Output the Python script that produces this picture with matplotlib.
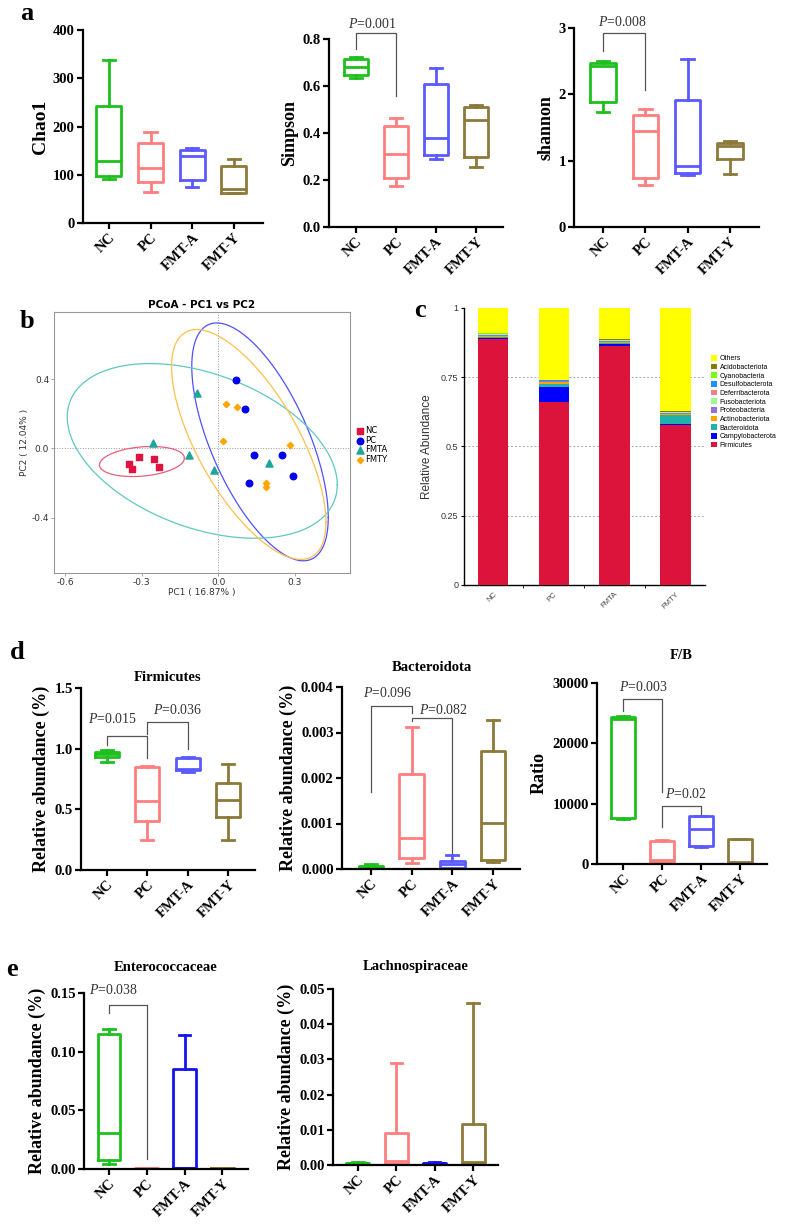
import numpy as np
import matplotlib
matplotlib.use('Agg')
import matplotlib.pyplot as plt
from matplotlib.patches import Patch

plt.rcParams['font.family'] = ['Liberation Serif', 'DejaVu Serif']
plt.rcParams['mathtext.fontset'] = 'custom'
plt.rcParams['mathtext.it'] = 'Liberation Serif:italic'
plt.rcParams['mathtext.rm'] = 'Liberation Serif'
plt.rcParams['axes.unicode_minus'] = False

W, H = 800, 1225
fig = plt.figure(figsize=(8, 12.25), dpi=100)

# ---------------- data ----------------
groups = ['NC', 'PC', 'FMT-A', 'FMT-Y']
col_a = ['#1EC01E', '#FF7F7F', '#5A5AFF', '#8C7A3A']
col_e = ['#1EC01E', '#FF7F7F', '#1414F0', '#8C7A3A']

# box stats: [min, q1, median, q3, max]
chao1 = [[92, 97, 128, 242, 337], [65, 85, 113, 165, 188],
         [75, 90, 138, 152, 155], [62, 63, 70, 118, 133]]
simpson = [[0.635, 0.645, 0.68, 0.715, 0.725], [0.175, 0.21, 0.31, 0.43, 0.465],
           [0.29, 0.305, 0.38, 0.61, 0.675], [0.255, 0.30, 0.455, 0.51, 0.52]]
shannon = [[1.74, 1.89, 2.42, 2.47, 2.50], [0.63, 0.74, 1.44, 1.69, 1.78],
           [0.79, 0.81, 0.92, 1.92, 2.53], [0.80, 1.02, 1.22, 1.27, 1.30]]
firmicutes_box = [[0.89, 0.935, 0.955, 0.975, 0.99], [0.25, 0.40, 0.57, 0.845, 0.86],
                  [0.81, 0.825, 0.83, 0.92, 0.93], [0.25, 0.44, 0.58, 0.72, 0.87]]
bacteroidota_box = [[0.00001, 0.00002, 0.00004, 0.00006, 0.00012],
                    [0.00013, 0.00024, 0.00069, 0.00208, 0.00313],
                    [0.00001, 0.00003, 0.00010, 0.00018, 0.00031],
                    [0.00015, 0.00020, 0.00102, 0.00259, 0.00327]]
fb_box = [[7500, 7600, 24100, 24300, 24600], [200, 300, 600, 3800, 3900],
          [2900, 3000, 5800, 7900, 8000], [100, 200, 300, 4100, 4200]]
entero_box = [[0.004, 0.008, 0.031, 0.115, 0.119], [0.0, 0.0, 0.0005, 0.001, 0.001],
              [0.0, 0.0005, 0.001, 0.085, 0.114], [0.0, 0.0005, 0.001, 0.001, 0.001]]
lachno_box = [[0.0002, 0.0003, 0.0005, 0.0007, 0.0008], [0.0002, 0.0003, 0.001, 0.0091, 0.0291],
              [0.0002, 0.0003, 0.0005, 0.0007, 0.0008], [0.0003, 0.0005, 0.0008, 0.0117, 0.0459]]

# PCoA scores
nc_pc1 = [-0.348, -0.337, -0.310, -0.252, -0.233]
nc_pc2 = [-0.088, -0.117, -0.050, -0.060, -0.104]
pc_pc1 = [0.070, 0.103, 0.141, 0.121, 0.249, 0.292]
pc_pc2 = [0.392, 0.229, -0.038, -0.196, -0.038, -0.158]
fmta_pc1 = [-0.254, -0.083, -0.113, -0.016, 0.198]
fmta_pc2 = [0.031, 0.319, -0.038, -0.123, -0.081]
fmty_pc1 = [0.031, 0.073, 0.017, 0.279, 0.185, 0.187]
fmty_pc2 = [0.256, 0.240, 0.042, 0.021, -0.196, -0.219]
# confidence ellipses (centre and shape matrix) NC, PC, FMTA, FMTY
ell_cx = [-0.299, 0.163, -0.063, 0.119]
ell_cy = [-0.075, 0.038, -0.014, 0.023]
ell_sxx = [0.0276, 0.0713, 0.279, 0.0912]
ell_syy = [0.0075, 0.469, 0.253, 0.438]
ell_sxy = [0.0032, -0.116, -0.103, -0.135]

# stacked phylum composition
bar_groups = ['NC', 'PC', 'FMTA', 'FMTY']
phyla = ['Firmicutes', 'Campylobacterota', 'Bacteroidota', 'Actinobacteriota',
         'Proteobacteria', 'Fusobacteriota', 'Deferribacterota', 'Desulfobacterota',
         'Cyanobacteria', 'Acidobacteriota', 'Others']
phylum_vals = [
    [0.888, 0.662, 0.862, 0.578],
    [0.005, 0.052, 0.009, 0.002],
    [0.001, 0.010, 0.002, 0.032],
    [0.006, 0.009, 0.006, 0.004],
    [0.004, 0.003, 0.003, 0.006],
    [0.001, 0.001, 0.001, 0.001],
    [0.001, 0.001, 0.001, 0.001],
    [0.001, 0.001, 0.001, 0.001],
    [0.001, 0.001, 0.001, 0.001],
    [0.001, 0.001, 0.001, 0.001],
    [0.091, 0.259, 0.113, 0.373],
]
phylum_cols = ['#DC143C', '#0000FF', '#20B2AA', '#FFA500', '#9370DB', '#98FB98',
               '#F08080', '#1E90FF', '#7CFC00', '#808000', '#FFFF00']


def rect(x0, y0, x1, y1):
    return [x0 / W, 1 - y1 / H, (x1 - x0) / W, (y1 - y0) / H]


def box_panel(r, stats, colors, xlim, ylim, yticks, yfmt, ylabel, title=None,
              brackets=(), title_y=None, ylabel_size=13):
    ax = fig.add_axes(r)
    bst = [dict(whislo=s[0], q1=s[1], med=s[2], q3=s[3], whishi=s[4], fliers=[])
           for s in stats]
    pos = np.arange(len(stats))
    res = ax.bxp(bst, positions=pos, widths=0.6, capwidths=0.3, showfliers=False,
                 patch_artist=False)
    for i, c in enumerate(colors):
        for key in ('boxes', 'medians'):
            res[key][i].set(color=c, linewidth=2.0)
        for key in ('whiskers', 'caps'):
            res[key][2 * i].set(color=c, linewidth=2.0)
            res[key][2 * i + 1].set(color=c, linewidth=2.0)
    ax.set_xlim(*xlim)
    ax.set_ylim(*ylim)
    ax.set_yticks(yticks)
    ax.set_yticklabels([yfmt.format(v) for v in yticks], fontweight='bold', fontsize=10.5)
    ax.set_xticks(pos)
    ax.set_xticklabels(groups, rotation=45, ha='right', va='top', rotation_mode='anchor',
                       fontweight='bold', fontsize=10.5)
    for s in ('top', 'right'):
        ax.spines[s].set_visible(False)
    for s in ('left', 'bottom'):
        ax.spines[s].set_linewidth(1.6)
    ax.tick_params(width=1.6, length=4, direction='out', pad=2)
    ax.set_ylabel(ylabel, fontweight='bold', fontsize=ylabel_size, labelpad=3)
    if title:
        ax.text(1.5, title_y, title, ha='center', va='center', fontweight='bold',
                fontsize=10.5, transform=ax.transData, clip_on=False)
    for (x1, x2, yt, y1b, y2b, txt, tx, ty) in brackets:
        ax.plot([x1, x1, x2, x2], [y1b, yt, yt, y2b], color='#555555', lw=0.9,
                clip_on=False, zorder=5)
        ax.text(tx, ty, r'$\mathit{P}$=' + txt, ha='center', va='center', fontsize=10,
                color='#333333', clip_on=False)
    return ax


# ---------------- panel a ----------------
box_panel(rect(83, 30, 263, 223), chao1, col_a, (-0.62, 3.7), (0, 400),
          [0, 100, 200, 300, 400], '{:.0f}', 'Chao1', ylabel_size=14)
box_panel(rect(329, 39, 503, 227), simpson, col_a, (-0.675, 3.675), (0, 0.8),
          [0, 0.2, 0.4, 0.6, 0.8], '{:.1f}', 'Simpson',
          brackets=[(0, 1, 0.827, 0.759, 0.556, '0.001', 0.41, 0.865)])
box_panel(rect(574, 28, 759, 227), shannon, col_a, (-0.69, 3.69), (0, 3),
          [0, 1, 2, 3], '{:.0f}', 'shannon',
          brackets=[(0, 1, 2.93, 2.65, 2.06, '0.008', 0.47, 3.09)])

# ---------------- panel b ----------------
axb = fig.add_axes(rect(54, 312, 350, 573))
axb.set_xlim(-0.643, 0.515)
axb.set_ylim(-0.717, 0.786)
axb.axvline(0, color='#999999', lw=0.7, ls=':', zorder=0)
axb.axhline(0, color='#999999', lw=0.7, ls=':', zorder=0)
ell_cols = ['#E8607A', '#5050FF', '#60C8C0', '#FFC04A']
t = np.linspace(0, 2 * np.pi, 300)
for cx, cy, sxx, syy, sxy, c in zip(ell_cx, ell_cy, ell_sxx, ell_syy, ell_sxy, ell_cols):
    L = np.linalg.cholesky(np.array([[sxx, sxy], [sxy, syy]]))
    pts = L @ np.vstack([np.cos(t), np.sin(t)])
    axb.plot(cx + pts[0], cy + pts[1], color=c, lw=0.9)
axb.scatter(nc_pc1, nc_pc2, marker='s', s=20, color='#E0123F', zorder=4, label='NC')
axb.scatter(pc_pc1, pc_pc2, marker='o', s=22, color='#0000EE', zorder=4, label='PC')
axb.scatter(fmta_pc1, fmta_pc2, marker='^', s=26, color='#1FA59A', zorder=4, label='FMTA')
axb.scatter(fmty_pc1, fmty_pc2, marker='D', s=10, color='#FFA500', zorder=4, label='FMTY')
axb.set_xticks([-0.6, -0.3, 0.0, 0.3])
axb.set_yticks([-0.4, 0.0, 0.4])
sans = ['DejaVu Sans']
for lab in axb.get_xticklabels() + axb.get_yticklabels():
    lab.set_family(sans)
    lab.set_fontsize(6.5)
    lab.set_color('#333333')
for s in axb.spines.values():
    s.set_color('#999999')
    s.set_linewidth(0.8)
axb.tick_params(length=2, width=0.6, color='#999999', pad=1.5)
axb.set_xlabel('PC1 ( 16.87% )', family=sans, fontsize=6.5, color='#333333', labelpad=1)
axb.set_ylabel('PC2 ( 12.04% )', family=sans, fontsize=6.5, color='#333333', labelpad=2)
axb.set_title('PCoA - PC1 vs PC2', family=sans, fontsize=7.5, fontweight='bold', pad=3)
axb.legend(loc='center left', bbox_to_anchor=(1.0, 0.49), frameon=False,
           prop=dict(family=sans, size=6), handletextpad=0.1, labelspacing=0.05,
           borderaxespad=0.3, handlelength=1.0)

# ---------------- panel c ----------------
sans_c = ['Liberation Sans', 'DejaVu Sans']
axc = fig.add_axes(rect(464, 308, 705, 585))
xb = np.arange(len(bar_groups))
bottom = np.zeros(len(bar_groups))
for name, vals, c in zip(phyla, phylum_vals, phylum_cols):
    axc.bar(xb, vals, bottom=bottom, width=0.505, color=c, label=name, zorder=3,
            linewidth=0)
    bottom += np.array(vals)
axc.set_xlim(-0.48, 3.49)
axc.set_ylim(0, 1)
for yv in [0.25, 0.5, 0.75]:
    axc.axhline(yv, color='#AAAAAA', lw=0.7, ls=(0, (2, 2)), zorder=1)
axc.set_yticks([0, 0.25, 0.5, 0.75, 1])
axc.set_yticklabels(['0', '0.25', '0.5', '0.75', '1'], family=sans_c, fontsize=6.5,
                    color='#333333')
axc.set_xticks(xb)
axc.set_xticklabels(bar_groups, rotation=45, ha='right', va='top', rotation_mode='anchor',
                    family=sans_c, fontsize=5.5, color='#444444')
axc.set_xticks([0.5, 1.5, 2.5], minor=True)
axc.tick_params(axis='x', which='major', length=0, pad=4)
axc.tick_params(axis='x', which='minor', length=2.5, width=0.6)
axc.tick_params(axis='y', length=2.5, width=0.8, pad=1.5)
for s in ('top', 'right'):
    axc.spines[s].set_visible(False)
for s in ('left', 'bottom'):
    axc.spines[s].set_linewidth(1.0)
axc.set_ylabel('Relative Abundance', family=sans_c, fontsize=8.5, color='#333333', labelpad=6)
handles = [Patch(facecolor=c, edgecolor='none') for c in phylum_cols][::-1]
fig.legend(handles, phyla[::-1], loc='center left', bbox_to_anchor=(708 / W, 1 - 402 / H),
           frameon=False, prop=dict(family=sans_c, size=5), handlelength=0.9,
           handleheight=0.9, handletextpad=0.4, labelspacing=0.2, borderaxespad=0)

# ---------------- panel d ----------------
box_panel(rect(81, 688, 255, 870), firmicutes_box, col_a, (-0.645, 3.67), (0, 1.5),
          [0, 0.5, 1.0, 1.5], '{:.1f}', 'Relative abundance (%)', title='Firmicutes',
          title_y=1.59,
          brackets=[(0, 1, 1.105, 1.028, 0.927, '0.015', 0.13, 1.242),
                    (1, 2, 1.22, 1.119, 1.0, '0.036', 1.74, 1.32)])
box_panel(rect(342, 687, 520, 869), bacteroidota_box, col_a, (-0.71, 3.66), (0, 0.004),
          [0, 0.001, 0.002, 0.003, 0.004], '{:.3f}', 'Relative abundance (%)',
          title='Bacteroidota', title_y=0.00442,
          brackets=[(0, 1, 0.003584, 0.0017, 0.00343, '0.096', 0.40, 0.00387),
                    (1, 2, 0.00331, 0.00325, 0.00035, '0.082', 1.78, 0.0035)])
box_panel(rect(597, 683, 767, 864), fb_box, col_a, (-0.67, 3.69), (0, 30000),
          [0, 10000, 20000, 30000], '{:.0f}', 'Ratio', title='F/B', title_y=34600,
          brackets=[(0, 1, 27340, 25290, 12000, '0.003', 0.53, 29270),
                    (1, 2, 9690, 6200, 8300, '0.02', 1.6, 11620)])

# ---------------- panel e ----------------
box_panel(rect(84, 993, 248, 1169), entero_box, col_e, (-0.66, 3.68), (0, 0.15),
          [0, 0.05, 0.10, 0.15], '{:.2f}', 'Relative abundance (%)',
          title='Enterococcaceae', title_y=0.172,
          brackets=[(0, 1, 0.14, 0.133, 0.0085, '0.038', 0.12, 0.1528)])
box_panel(rect(333, 989, 498, 1165), lachno_box, col_e, (-0.65, 3.65), (0, 0.05),
          [0, 0.01, 0.02, 0.03, 0.04, 0.05], '{:.2f}', 'Relative abundance (%)',
          title='Lachnospiraceae', title_y=0.0563)

# ---------------- panel letters ----------------
for letter, (px, py) in zip('abcde', [(27, 14), (27, 322), (420, 311), (17, 652), (12, 970)]):
    fig.text(px / W, 1 - py / H, letter, fontsize=19, fontweight='bold', ha='center',
             va='center')

fig.savefig('out.png', dpi=100)
